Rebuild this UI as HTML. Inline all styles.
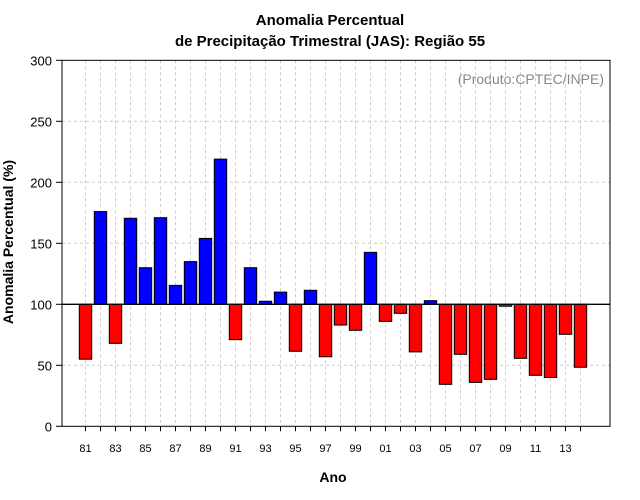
<!DOCTYPE html>
<html><head><meta charset="utf-8"><style>
body{margin:0;background:#fff}
svg{display:block;font-family:"Liberation Sans",Arial,sans-serif}
</style></head><body>
<svg id="c" width="640" height="500">
<text x="330" y="25" text-anchor="middle" font-size="15" font-weight="bold">Anomalia Percentual</text>
<text x="330" y="46" text-anchor="middle" font-size="15" font-weight="bold">de Precipitação Trimestral (JAS): Região 55</text>
<text x="333" y="482" text-anchor="middle" font-size="14" font-weight="bold">Ano</text>
<text transform="translate(13,242) rotate(-90)" text-anchor="middle" font-size="14" font-weight="bold">Anomalia Percentual (%)</text>
<text x="604" y="84" text-anchor="end" font-size="14" fill="#888">(Produto:CPTEC/INPE)</text>
<g id="grid"></g><g id="bars"></g><g id="axes"></g>
</svg>
<script>
const years=["81","82","83","84","85","86","87","88","89","90","91","92","93","94","95","96","97","98","99","00","01","02","03","04","05","06","07","08","09","10","11","12","13","14"];
const values=[55,176,68,170.5,130,171,115.5,135,154,219,71,130,102.5,110,61.5,111.5,57,83,78.7,142.6,86,92.6,61,103,34.4,59,36,38.5,98.4,55.7,41.8,40,75.4,48.4];
const yTicks=[0,50,100,150,200,250,300];
const NS="http://www.w3.org/2000/svg";
const L=62,R=610,T=60.3,B=426.3;
const y=v=>B-(v/300)*(B-T);
const x=i=>85.5+15*i;
function mk(p,t,a){const e=document.createElementNS(NS,t);for(const k in a)e.setAttribute(k,a[k]);p.appendChild(e);return e;}
const g=document.getElementById('grid'),b=document.getElementById('bars'),ax=document.getElementById('axes');
yTicks.forEach(v=>{
 if(v>0&&v<300){const l=mk(g,'line',{x1:L,x2:R,y1:y(v),y2:y(v),stroke:'#ccc','stroke-dasharray':'3,3'});
 }
 const t=mk(ax,'line',{x1:L-6,x2:L,y1:y(v),y2:y(v),stroke:'#000'});
 
 const tx=mk(ax,'text',{x:L-10,y:y(v)+5,'text-anchor':'end','font-size':13});tx.textContent=v;
 
});
years.forEach((yr,i)=>{
 const l=mk(g,'line',{x1:x(i),x2:x(i),y1:T,y2:B,stroke:'#ccc','stroke-dasharray':'3,3'});
 
 const v=values[i],top=Math.min(y(v),y(100)),h=Math.abs(y(v)-y(100));
 const r=mk(b,'rect',{x:x(i)-6.2,y:top,width:12.4,height:Math.max(h,1),fill:v>=100?'#0000ff':'#ff0000',stroke:'#000','stroke-width':1});
 
 const tk=mk(ax,'line',{x1:x(i),x2:x(i),y1:B,y2:B+5,stroke:'#000'});
 
 if(i%2===0){const tx=mk(ax,'text',{x:x(i),y:452,'text-anchor':'middle','font-size':11});tx.textContent=yr;
 }
});
const base=mk(ax,'line',{x1:L,x2:R,y1:y(100),y2:y(100),stroke:'#000','stroke-width':1.3});

const box=mk(ax,'rect',{x:L,y:T,width:R-L,height:B-T,fill:'none',stroke:'#000'});

</script>
</body></html>
